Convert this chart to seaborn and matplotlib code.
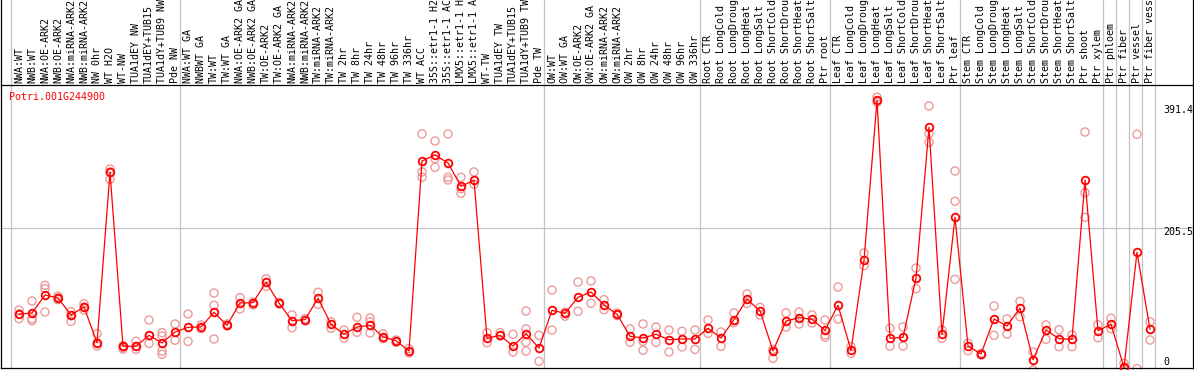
import numpy as np
import pandas as pd
import seaborn as sns
import matplotlib.pyplot as plt

sns.set_style("white")
plt.rcParams['font.family'] = ['DejaVu Sans Mono', 'DejaVu Sans']

gene = "Potri.001G244900"

# sample labels, left to right
labels = [
    "NWA:WT", "NWB:WT", "NWA:OE-ARK2", "NWB:OE-ARK2", "NWA:miRNA-ARK2",
    "NWB:miRNA-ARK2", "NW 0hr", "WT H2O", "WT-NW", "TUA1dEY NW",
    "TUA1dEY+TUB15", "TUA1dY+TUB9 NW", "Pde NW",
    "NWA:WT GA", "NWBWT GA", "TW:WT", "TW:WT GA", "NWA:OE-ARK2 GA",
    "NWB:OE-ARK2 GA", "TW:OE-ARK2", "TW:OE-ARK2 GA", "NWA:miRNA-ARK2",
    "NWB:miRNA-ARK2", "TW:miRNA-ARK2", "TW:miRNA-ARK2", "TW 2hr", "TW 8hr",
    "TW 24hr", "TW 48hr", "TW 96hr", "TW 336hr", "WT ACC", "35S::etr1-1 H2O",
    "35S::etr1-1 ACC", "LMX5::etr1-1 H2O", "LMX5::etr1-1 ACC", "WT-TW",
    "TUA1dEY TW", "TUA1dEY+TUB15", "TUA1dY+TUB9 TW", "Pde TW",
    "OW:WT", "OW:WT GA", "OW:OE-ARK2", "OW:OE-ARK2 GA", "OW:miRNA-ARK2",
    "OW:miRNA-ARK2", "OW 2hr", "OW 8hr", "OW 24hr", "OW 48hr", "OW 96hr",
    "OW 336hr",
    "Root CTR", "Root LongCold", "Root LongDrought", "Root LongHeat",
    "Root LongSalt", "Root ShortCold", "Root ShortDrought", "Root ShortHeat",
    "Root ShortSalt", "Ptr root",
    "Leaf CTR", "Leaf LongCold", "Leaf LongDrought", "Leaf LongHeat",
    "Leaf LongSalt", "Leaf ShortCold", "Leaf ShortDrought", "Leaf ShortHeat",
    "Leaf ShortSalt", "Ptr leaf",
    "Stem CTR", "Stem LongCold", "Stem LongDrought", "Stem LongHeat",
    "Stem LongSalt", "Stem ShortCold", "Stem ShortDrought", "Stem ShortHeat",
    "Stem ShortSalt", "Ptr shoot", "Ptr xylem",
    "Ptr phloem", "Ptr fiber", "Ptr vessel", "Ptr fiber vessel",
]
group_sizes = [13, 28, 12, 10, 10, 11, 1, 1, 1, 1]

mean_expr = [
    81.2, 82.7, 108.8, 104.4, 79.8, 91.4, 39.6, 287.2, 34.4, 34.4, 50.3, 39.2, 55.1,
    61.9, 62.4, 83.7, 64.8, 97.2, 97.6, 127.2, 97.2, 71.5, 73.0, 104.0, 66.3, 51.8,
    62.4, 64.8, 48.3, 42.5, 27.6, 303.1, 311.8, 300.2, 266.4, 275.1, 46.0, 50.3,
    34.8, 52.6, 31.9,
    86.6, 82.2, 105.4, 113.1, 94.3, 80.8, 48.9, 46.4, 51.8, 43.9, 45.0, 45.0,
    60.5, 46.4, 73.0, 102.5, 86.0, 27.6, 71.1, 75.9, 73.5, 57.6,
    93.8, 28.6, 159.1, 391.4, 46.0, 47.4, 133.0, 352.0, 51.8, 221.5,
    34.8, 23.2, 74.0, 63.8, 89.9, 14.9, 58.0, 45.4, 44.5, 275.6, 57.0,
    66.3, 3.9, 170.7, 59.0,
]

# individual replicates per sample
replicates = [
    [87.0, 81.2, 74.4], [100.1, 74.4, 71.5], [122.8, 117.9, 84.1], [102.0, 104.4, 107.0],
    [84.6, 78.8, 70.6], [96.2, 91.4, 87.0], [52.6, 39.2, 34.8], [291.5, 287.2, 276.6],
    [35.2, 32.3, 30.5], [41.6, 34.4, 30.0], [72.5, 49.7, 38.7], [54.1, 49.3, 27.6, 22.8],
    [66.7, 43.1],
    [81.2, 41.6], [65.3, 59.9], [111.7, 93.8, 45.0], [66.7, 63.8], [104.9, 88.5],
    [98.6, 94.3], [132.4, 121.4], [96.0, 98.4], [79.8, 61.3], [74.4, 71.5],
    [112.7, 95.3], [70.0, 60.5], [58.0, 46.4], [76.4, 54.7], [75.4, 70.0, 53.7],
    [52.6, 45.4], [43.5, 40.2], [30.9, 24.7], [342.3, 287.2, 279.5],
    [332.1, 306.5, 294.0], [342.3, 279.5, 275.6], [279.5, 262.9, 256.3],
    [287.2, 269.3], [54.1, 39.6], [54.1, 49.3], [51.8, 26.1],
    [85.6, 59.5, 40.2, 27.6], [50.3, 12.6],
    [116.0, 58.0], [78.0, 84.0], [127.6, 85.1], [129.1, 96.7], [102.0, 87.5],
    [82.7, 79.0], [59.5, 40.2], [66.7, 41.6, 28.6], [62.4, 40.2], [58.0, 26.1],
    [56.1, 33.4], [58.0, 30.0],
    [72.5, 53.2], [55.1, 34.4], [82.7, 68.6], [110.2, 96.7], [90.9, 79.8],
    [30.0, 17.0], [82.7, 62.4], [84.1, 66.7], [79.8, 68.2], [72.5, 50.8, 47.4],
    [120.4, 74.0], [33.8, 24.2], [169.7, 151.3], [395.5, 388.3], [60.5, 34.8],
    [62.4, 34.8], [147.9, 117.9], [382.9, 342.7, 330.2], [58.0, 46.0],
    [288.6, 244.7, 131.5],
    [38.7, 28.0], [24.2, 21.8], [92.8, 50.3], [74.0, 52.2], [99.6, 77.3],
    [26.1, 0.0], [65.3, 44.5], [58.4, 33.8], [50.8, 33.8], [345.2, 257.1, 221.5],
    [65.7, 46.8], [75.0, 59.9], [9.7, 1.0], [341.8, 1.9], [70.0, 43.5],
]

y_labels = [391.4, 205.5, 0]

mean_df = pd.DataFrame({"pos": np.arange(len(labels)), "expr": mean_expr})
rep_df = pd.DataFrame([(i, v) for i, reps in enumerate(replicates) for v in reps],
                      columns=["pos", "expr"])

fig = plt.figure(figsize=(11.94, 3.70), dpi=100)
W, H = 1194, 370
ax = fig.add_axes([1 / W, 2 / H, 1192 / W, 283 / H])
ax_lab = fig.add_axes([1 / W, 285 / H, 1192 / W, 85 / H], sharex=ax)

grid_col = "#c4c4c4"
bounds = np.concatenate([[0], np.cumsum(group_sizes)]) - 0.58
for b in bounds:
    ax.axvline(b, color=grid_col, lw=0.9, zorder=0)
    ax_lab.axvline(b, color=grid_col, lw=0.9, zorder=0)
ax.axhline(205.5, color=grid_col, lw=0.9, zorder=0)

sns.scatterplot(data=rep_df, x="pos", y="expr", ax=ax, marker="o", s=34,
                facecolor="none", edgecolor="#ee9a9a", linewidth=1.0,
                legend=False, zorder=2, clip_on=False)
sns.lineplot(data=mean_df, x="pos", y="expr", ax=ax, color="#ff0000",
             linewidth=0.9, marker="o", markersize=5.5, markerfacecolor="none",
             markeredgecolor="#ff0000", markeredgewidth=1.3, legend=False,
             zorder=3, clip_on=False)

ax.set_xlim((1 - 19) / 13, (1193 - 19) / 13)
ax.set_ylim(2.9, 413.3)
ax.set_xticks([])
ax.set_yticks([])
ax.set_xlabel("")
ax.set_ylabel("")
for s in ax.spines.values():
    s.set_color("black")
    s.set_linewidth(0.9)

ax.text(8 / 1192, 1 - 12 / 283, gene, transform=ax.transAxes, color="#ff0000",
        fontsize=7.2, va="center", ha="left")
for val, ypix in zip(y_labels, [110, 232, 362]):
    ax.text((1163 - 1) / 1192, (368 - ypix) / 283, f"{val:g}", transform=ax.transAxes,
            fontsize=7.2, va="center", ha="left", color="black")

ax_lab.set_ylim(0, 1)
ax_lab.set_xticks([])
ax_lab.set_yticks([])
for name, s in ax_lab.spines.items():
    s.set_visible(name in ("left", "right"))
    s.set_color("black")
    s.set_linewidth(0.9)
ax_lab.patch.set_alpha(0)
for i, lab in enumerate(labels):
    ax_lab.text(i, 2 / 85, lab, rotation=90, ha="center", va="bottom",
                fontsize=7.2, color="black", clip_on=True)

fig.savefig("out.png", dpi=100)
